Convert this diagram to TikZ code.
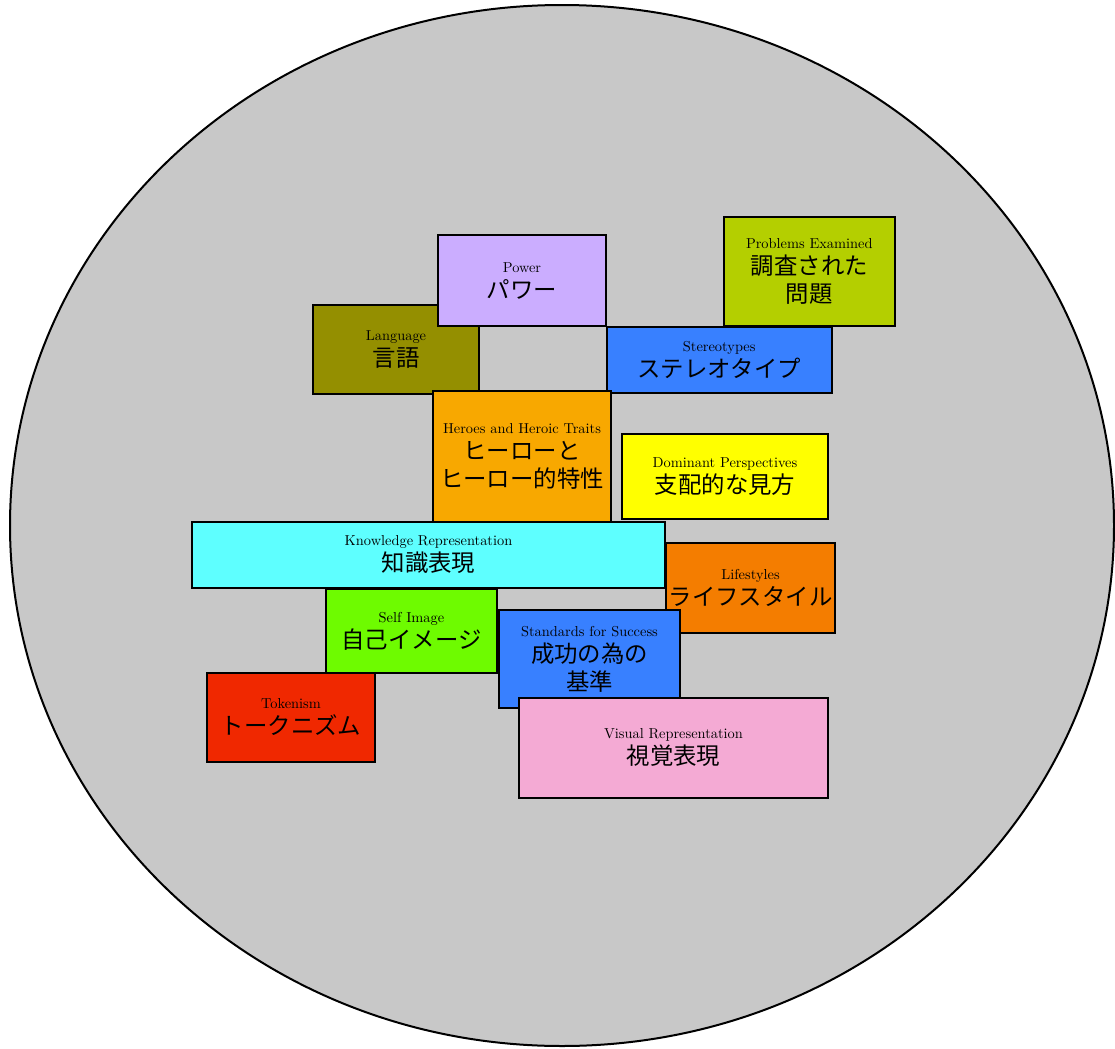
\documentclass[tikz,border=0pt]{standalone}
\usepackage{fontspec}
\newfontfamily\jafont{Noto Sans CJK JP}
\newfontfamily\enfont{lmroman10-regular.otf}
\usetikzlibrary{shapes.geometric}
\definecolor{bgGray}{HTML}{C8C8C8}
\definecolor{cPower}{HTML}{CBADFF}
\definecolor{cLang}{HTML}{948F00}
\definecolor{cProb}{HTML}{B4CF00}
\definecolor{cBlue}{HTML}{3880FF}
\definecolor{cHero}{HTML}{F8A800}
\definecolor{cDom}{HTML}{FFFF00}
\definecolor{cKnow}{HTML}{5EFFFF}
\definecolor{cLife}{HTML}{F47D00}
\definecolor{cSelf}{HTML}{6EFB00}
\definecolor{cTok}{HTML}{F02800}
\definecolor{cVis}{HTML}{F4AAD4}
\tikzset{
  topicbox/.style={draw=black, line width=1pt, rectangle, inner sep=0pt, align=center,
    font=\jafont\fontsize{11.7}{14}\selectfont},
  bgoval/.style={ellipse, draw=black, line width=1pt, fill=bgGray, inner sep=0pt},
}
\newcommand\entxt[1]{{\enfont\fontsize{7.2}{8}\selectfont #1}}
\begin{document}
\begin{tikzpicture}[x=0.5pt, y=-0.5pt]
\useasboundingbox (0,0) rectangle (1115,1049);
\node[bgoval, minimum width=552pt, minimum height=520.5pt] (bg) at (562,525.5) {};
\node[topicbox, fill=cLang, minimum width=83pt, minimum height=44.7pt] (lang) at (396,349.3) {\entxt{Language}\\[-1pt]言語};
\node[topicbox, fill=cPower, minimum width=84pt, minimum height=45.5pt] (power) at (522,280.5) {\entxt{Power}\\[-1pt]パワー};
\node[topicbox, fill=cProb, minimum width=85.3pt, minimum height=54.7pt] (prob) at (809.3,271.3) {\entxt{Problems Examined}\\[-1pt]調査された\\問題};
\node[topicbox, fill=cBlue, minimum width=112.5pt, minimum height=32.7pt] (stereo) at (719.2,360) {\entxt{Stereotypes}\\[-1pt]ステレオタイプ};
\node[topicbox, fill=cHero, minimum width=88.7pt, minimum height=65.3pt] (hero) at (522,456.3) {\entxt{Heroes and Heroic Traits}\\[-1pt]ヒーローと\\ヒーロー的特性};
\node[topicbox, fill=cDom, minimum width=103.3pt, minimum height=42.5pt] (dom) at (725,476.8) {\entxt{Dominant Perspectives}\\[-1pt]支配的な見方};
\node[topicbox, fill=cKnow, minimum width=236.5pt, minimum height=33pt] (know) at (428.5,555) {\entxt{Knowledge Representation}\\[-1pt]知識表現};
\node[topicbox, fill=cLife, minimum width=84.5pt, minimum height=45pt] (life) at (750.5,588) {\entxt{Lifestyles}\\[-1pt]ライフスタイル};
\node[topicbox, fill=cSelf, minimum width=85.5pt, minimum height=42pt] (self) at (411.5,631) {\entxt{Self Image}\\[-1pt]自己イメージ};
\node[topicbox, fill=cBlue, minimum width=90.5pt, minimum height=49pt] (stand) at (589.5,659) {\entxt{Standards for Success}\\[-1pt]成功の為の\\基準};
\node[topicbox, fill=cTok, minimum width=84pt, minimum height=44.5pt] (tok) at (291,717.5) {\entxt{Tokenism}\\[-1pt]トークニズム};
\node[topicbox, fill=cVis, minimum width=154.5pt, minimum height=50pt] (vis) at (673.5,748) {\entxt{Visual Representation}\\[-1pt]視覚表現};
\end{tikzpicture}
\end{document}
